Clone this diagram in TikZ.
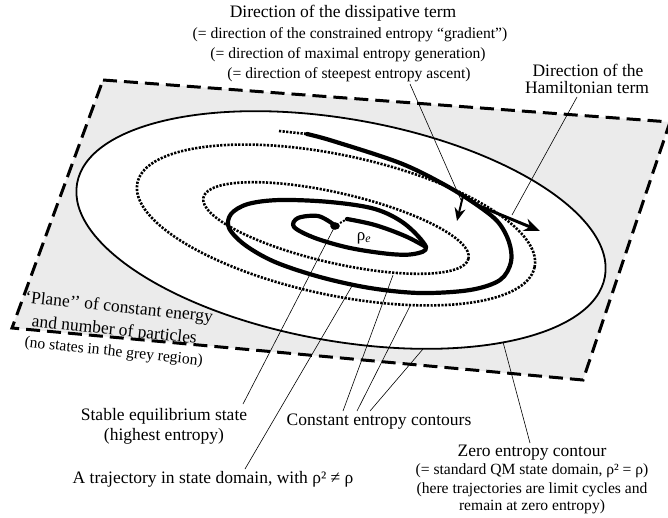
\documentclass[tikz,border=0pt]{standalone}
\usepackage{fontspec}
\setmainfont{Liberation Serif}
\usetikzlibrary{arrows.meta}
\begin{document}
\begin{tikzpicture}[x=1pt,y=-1pt,
  lbl/.style={inner sep=0pt, font=\fontsize{17.5}{20}\selectfont, align=center},
  sml/.style={inner sep=0pt, font=\fontsize{15.6}{18}\selectfont, align=center},
  leader/.style={line width=0.6pt},
  contour/.style={line width=2.6pt, dash pattern=on 2.2pt off 1.4pt},
  traj/.style={line width=4.2pt, line cap=round, line join=round},
  plane/.style={line width=3pt, dash pattern=on 14pt off 7pt},
]
\useasboundingbox (0,0) rectangle (668,517);
% plane corners
\coordinate (pTL) at (103,80);
\coordinate (pTR) at (670,122);
\coordinate (pBR) at (583,380);
\coordinate (pBL) at (12,328);
% grey region
\fill[black!8, even odd rule] (pTL) -- (pTR) -- (pBR) -- (pBL) -- cycle
  (341,230) ellipse [x radius=268, y radius=111, rotate=-10];
\draw[plane] (pTL) -- (pTR) -- (pBR) -- (pBL) -- cycle;
% zero entropy contour
\draw[line width=1.8pt] (341,230) ellipse [x radius=268, y radius=111, rotate=-10];
% constant entropy contours
\draw[contour] (336,225) ellipse [x radius=203, y radius=70, rotate=-12];
\draw[contour] (336,228) ellipse [x radius=136, y radius=35, rotate=-13];
% trajectory
\coordinate (ts) at (307,134);
\draw[line width=2.6pt, dash pattern=on 2.2pt off 1.4pt] (279,131) -- (ts);
\draw[traj] plot[smooth, tension=0.55] coordinates {
 (307,134) (333,141) (400,163) (445,185) (477,205) (498,222) (509,242)
 (511,262) (500,280) (470,290) (420,293) (370,288) (320,277) (275,262)
 (245,245) (229,228) (231,214) (248,204) (280,200) (330,202) (375,209)
 (405,224) (426,247) (414,254) (390,254) (350,248) (315,238) (294,227)
 (298,218) (318,216) (333,224)};
% upper right edge of the innermost loop
\coordinate (et) at (347,219);
\draw[traj] plot[smooth, tension=0.6] coordinates {(et) (375,225) (405,236) (426,247)};
% equilibrium point
\coordinate (rhoe) at (335,226);
\fill (rhoe) ellipse [x radius=4.8, y radius=3.8];
\draw[line width=2pt, dash pattern=on 2pt off 1.5pt] (340,223) -- (et);
\node[inner sep=0pt, font=\fontsize{17}{17}\selectfont] (rho) at (364,238) {ρ\textsubscript{\itshape e}};
% arrows
\coordinate (hb) at (477,205);
\coordinate (ht) at (540,231);
\draw[line width=3pt, -{Stealth[length=16pt,width=13pt]}] (hb) -- (ht);
\coordinate (db) at (463,196);
\coordinate (dt) at (457,221);
\draw[line width=2pt, -{Stealth[length=13pt,width=11pt]}] (db) -- (dt);
% texts
\node[lbl] (t1) at (343,13) {Direction of the dissipative term};
\node[sml] (t2) at (350,35) {(= direction of the constrained entropy “gradient”)};
\node[sml] (t3) at (348,55) {(= direction of maximal entropy generation)};
\node[sml] (t4) at (349,75) {(= direction of steepest entropy ascent)};
\node[lbl] (h1) at (588,70) {Direction of the};
\node[lbl] (h2) at (587,88) {Hamiltonian term};
\node[rotate=-6, anchor=north west, inner sep=0pt, align=left,
      font=\fontsize{17.5}{23}\selectfont] (pl) at (26,290)
  {‘Plane’’ of constant energy\\
   \hspace*{9pt}and number of particles\\[-2pt]
   {\fontsize{15.6}{18}\selectfont\hspace*{4pt}(no states in the grey region)}};
\node[lbl] (s1) at (164,416) {Stable equilibrium state};
\node[lbl] (s2) at (164,436) {(highest entropy)};
\node[lbl] (ce) at (379,422) {Constant entropy contours};
\node[lbl] (tr) at (213,479) {A trajectory in state domain, with ρ² ≠ ρ};
\node[lbl] (z1) at (532,453) {Zero entropy contour};
\node[sml] (z2) at (532,471) {(= standard QM state domain, ρ² = ρ)};
\node[sml] (z3) at (532,490) {(here trajectories are limit cycles and};
\node[sml] (z4) at (532,507) {remain at zero entropy)};
% leader lines
\coordinate (dl) at (410,84);
\coordinate (de) at (461,200);
\draw[leader] (dl) -- (de);
\coordinate (hl) at (577,97);
\coordinate (he) at (512,215);
\draw[leader] (hl) -- (he);
\coordinate (se) at (243,404);
\draw[leader] (rhoe) -- (se);
\coordinate (trs) at (352,286);
\coordinate (tre) at (245,469);
\draw[leader] (trs) -- (tre);
\coordinate (c1s) at (393,275); \coordinate (c1e) at (343,411);
\coordinate (c2s) at (410,306); \coordinate (c2e) at (357,411);
\coordinate (c3s) at (423,349); \coordinate (c3e) at (370,411);
\draw[leader] (c1s) -- (c1e);
\draw[leader] (c2s) -- (c2e);
\draw[leader] (c3s) -- (c3e);
\coordinate (zs) at (503,342);
\coordinate (ze) at (530,443);
\draw[leader] (zs) -- (ze);
\end{tikzpicture}
\end{document}
